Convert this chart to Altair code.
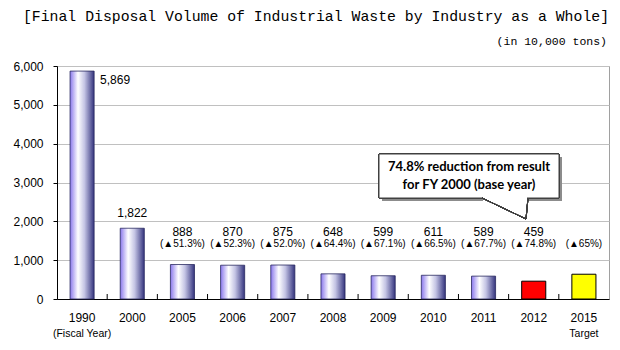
import altair as alt
import pandas as pd

categories = ["1990", "2000", "2005", "2006", "2007", "2008", "2009", "2010", "2011", "2012", "2015"]
values = [5869, 1822, 888, 870, 875, 648, 599, 611, 589, 459, 638]
value_labels = ["5,869", "1,822", "888", "870", "875", "648", "599", "611", "589", "459", ""]
pct_labels = ["", "", "(▲51.3%)", "(▲52.3%)", "(▲52.0%)", "(▲64.4%)", "(▲67.1%)",
              "(▲66.5%)", "(▲67.7%)", "(▲74.8%)", "(▲65%)"]
kinds = ["actual"] * 9 + ["latest", "target"]
label_pos = ["right", "above"] + ["row"] * 9
sub_labels = ["(Fiscal Year)", "", "", "", "", "", "", "", "", "", "Target"]

title_text = "[Final Disposal Volume of Industrial Waste by Industry as a Whole]"
unit_text = "(in 10,000 tons)"
callout_lines = ["74.8% reduction from result", "for FY 2000 (base year)"]

df = pd.DataFrame({
    "year": categories, "value": values, "vlabel": value_labels,
    "plabel": pct_labels, "kind": kinds, "pos": label_pos, "sub": sub_labels,
})

W, H = 552, 233
STEP = W / len(categories)
FONT = "Liberation Sans"

x = alt.X("year:N", sort=categories,
          scale=alt.Scale(paddingInner=0.52, paddingOuter=0.26),
          axis=alt.Axis(title=None, labelAngle=0, ticks=False, domainColor="#000000",
                        labelFont=FONT, labelFontSize=12, labelColor="#000000",
                        labelPadding=13))
y = alt.Y("value:Q", scale=alt.Scale(domain=[0, 6000], nice=False),
          axis=alt.Axis(title=None, values=[0, 1000, 2000, 3000, 4000, 5000, 6000], format=",.0f",
                        domainColor="#000000", tickColor="#000000", tickSize=4,
                        labelFont=FONT, labelFontSize=12, labelColor="#000000",
                        labelPadding=10, gridColor="#c0c0c0", gridWidth=1))

base = alt.Chart(df)

grad = alt.Gradient(
    gradient="linear", x1=0, x2=1, y1=0, y2=0,
    stops=[alt.GradientStop(offset=0, color="#8a78ec"),
           alt.GradientStop(offset=0.33, color="#ffffff"),
           alt.GradientStop(offset=0.6, color="#c4c4e4"),
           alt.GradientStop(offset=1, color="#34347e")])

bars = base.transform_filter(alt.datum.kind == "actual").mark_bar(
    fill=grad, stroke="#2a2a60", strokeWidth=0.8).encode(x=x, y=y)

bars2 = base.transform_filter(alt.datum.kind != "actual").mark_bar(
    stroke="#000000", strokeWidth=1).encode(
    x=x, y=y,
    fill=alt.Fill("kind:N", scale=alt.Scale(domain=["latest", "target"], range=["#ff0000", "#ffff00"]),
                  legend=None))

lab_right = base.transform_filter(alt.datum.pos == "right").mark_text(
    align="left", baseline="middle", dx=18, dy=9, font=FONT, fontSize=12, color="#000000").encode(
    x=x, y=y, text="vlabel:N")

lab_above = base.transform_filter(alt.datum.pos == "above").mark_text(
    align="center", baseline="middle", dy=-15, font=FONT, fontSize=12, color="#000000").encode(
    x=x, y=y, text="vlabel:N")

lab_row = base.transform_filter(alt.datum.pos == "row").mark_text(
    align="center", baseline="middle", font=FONT, fontSize=12, color="#000000").encode(
    x=x, y=alt.value(166), text="vlabel:N")

pct_row = base.transform_filter(alt.datum.pos == "row").mark_text(
    align="center", baseline="middle", font=FONT, fontSize=10, color="#000000").encode(
    x=x, y=alt.value(178), text="plabel:N")

sub_row = base.mark_text(align="center", baseline="middle", font=FONT, fontSize=10.5,
                         color="#000000").encode(
    x=x, y=alt.value(H + 35), text="sub:N")

# small inner tick marks at category boundaries on the x axis
xticks = base.transform_filter(alt.datum.year != "1990").mark_rule(
    color="#000000", strokeWidth=1, xOffset=-STEP / 2).encode(
    x=x, y=alt.value(H - 5), y2=alt.value(H))

# callout box
shadow = base.mark_rect(color="#8c8c8c").encode(
    x=alt.value(325), x2=alt.value(505), y=alt.value(91), y2=alt.value(135))
box = base.mark_rect(fill="#ffffff", stroke="#404040", strokeWidth=1).encode(
    x=alt.value(322), x2=alt.value(502), y=alt.value(88), y2=alt.value(132))
gap = base.mark_rule(color="#ffffff", strokeWidth=3).encode(
    x=alt.value(426), x2=alt.value(470), y=alt.value(133), y2=alt.value(133))
ptr1 = base.mark_rule(color="#404040", strokeWidth=1).encode(
    x=alt.value(425), x2=alt.value(469), y=alt.value(132), y2=alt.value(153))
ptr2 = base.mark_rule(color="#404040", strokeWidth=1).encode(
    x=alt.value(469), x2=alt.value(471), y=alt.value(153), y2=alt.value(132))
ctext = alt.Chart(pd.DataFrame({"t": [callout_lines]})).mark_text(
    align="center", baseline="middle", font="Lato", fontWeight="bold", fontSize=13,
    lineHeight=18, color="#000000").encode(
    x=alt.value(412), y=alt.value(101), text="t:N")

title = alt.Chart(pd.DataFrame({"t": [title_text]})).mark_text(
    align="center", baseline="middle", font="Liberation Mono", fontSize=14.8, color="#000000").encode(
    x=alt.value(259), y=alt.value(-49), text="t:N")
unit = alt.Chart(pd.DataFrame({"t": [unit_text]})).mark_text(
    align="right", baseline="middle", font="Liberation Mono", fontSize=11.5, color="#000000").encode(
    x=alt.value(550), y=alt.value(-24), text="t:N")

chart = alt.layer(
    bars, bars2, xticks, lab_right, lab_above, lab_row, pct_row, sub_row,
    shadow, box, gap, ptr1, ptr2, ctext, title, unit
).properties(
    width=W, height=H,
    autosize=alt.AutoSizeParams(type="none"),
    padding={"left": 57, "top": 66, "right": 11, "bottom": 51},
    background="#ffffff",
).configure_view(stroke="#a0a0a0", strokeWidth=1)

chart.save("out.html", embed_options={"renderer": "svg", "actions": False})
